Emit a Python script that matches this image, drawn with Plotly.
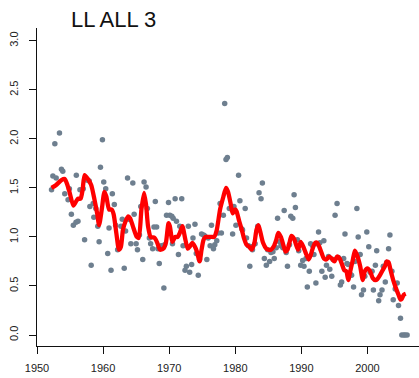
import plotly.graph_objects as go

# Observed points (year, value)
pt_year = [1952.2, 1952.4, 1952.7, 1952.9, 1953.4, 1953.7, 1953.9, 1954.2, 1954.7, 1954.9,
           1955.2, 1955.5, 1955.9, 1955.95, 1956.2, 1956.5, 1957.0, 1957.2, 1957.5, 1957.9,
           1958.0, 1958.2, 1958.5, 1958.6, 1958.9, 1959.2, 1959.4, 1959.6, 1959.9, 1960.1,
           1960.4, 1960.7, 1960.9, 1961.2, 1961.4, 1961.7, 1961.9, 1962.2, 1962.4, 1962.7,
           1962.9, 1963.2, 1963.4, 1963.7, 1963.9, 1964.2, 1964.5, 1964.7, 1965.0, 1965.2,
           1965.5, 1965.7, 1966.0, 1966.2, 1966.5, 1966.7, 1967.0, 1967.2, 1967.5, 1967.7,
           1967.9, 1968.1, 1968.3, 1968.5, 1968.8, 1969.2, 1969.3, 1969.6, 1969.9, 1970.1,
           1970.4, 1970.5, 1970.6, 1970.9, 1971.1, 1971.4, 1971.6, 1971.9, 1972.1, 1972.4,
           1972.6, 1972.9, 1973.1, 1973.4, 1973.6, 1973.9, 1974.1, 1974.4, 1974.6, 1974.9,
           1975.2, 1975.4, 1975.7, 1975.9, 1976.2, 1976.4, 1976.7, 1976.9, 1977.2, 1977.4,
           1977.7, 1977.9, 1978.2, 1978.4, 1978.6, 1978.8, 1979.1, 1979.6, 1979.8, 1980.1,
           1980.5, 1980.7, 1981.0, 1981.1, 1981.5, 1981.7, 1982.0, 1982.2, 1982.5, 1982.6,
           1983.0, 1983.4, 1983.6, 1983.9, 1984.1, 1984.4, 1984.7, 1984.9, 1985.2, 1985.4,
           1985.7, 1985.9, 1986.2, 1986.4, 1986.7, 1986.9, 1987.2, 1987.4, 1987.7, 1987.9,
           1988.2, 1988.4, 1988.7, 1988.9, 1989.1, 1989.4, 1989.6, 1989.9, 1990.2, 1990.4,
           1990.7, 1990.9, 1991.2, 1991.4, 1991.7, 1991.9, 1992.2, 1992.4, 1992.6, 1992.8,
           1993.1, 1993.4, 1993.6, 1993.8, 1994.1, 1994.3, 1994.6, 1994.8, 1995.1, 1995.4,
           1995.6, 1995.9, 1996.1, 1996.4, 1996.6, 1996.9, 1997.1, 1997.4, 1997.6, 1997.9,
           1998.1, 1998.4, 1998.6, 1998.9, 1999.1, 1999.4, 1999.6, 1999.9, 2000.2, 2000.4,
           2000.7, 2000.9, 2001.2, 2001.4, 2001.7, 2001.9, 2002.2, 2002.4, 2002.7, 2002.9,
           2003.2, 2003.4, 2003.7, 2003.9, 2004.2, 2004.5, 2004.7, 2005.0, 2005.2, 2005.5,
           2005.7, 2006.0]
pt_value = [1.48, 1.62, 1.95, 1.60, 2.06, 1.69, 1.67, 1.44, 1.38, 1.49,
            1.23, 1.12, 1.15, 1.63, 1.16, 1.48, 1.49, 0.97, 1.58, 1.57,
            1.31, 0.71, 1.34, 1.20, 1.29, 1.11, 0.95, 1.71, 1.99, 1.56,
            1.49, 0.83, 1.09, 0.66, 1.44, 1.33, 1.12, 0.87, 0.94, 1.11,
            1.18, 0.68, 1.06, 1.60, 1.18, 0.93, 1.55, 1.23, 0.93, 0.87,
            1.02, 1.31, 0.77, 1.56, 1.51, 1.29, 0.99, 0.93, 0.88, 1.10,
            1.36, 1.10, 0.88, 0.73, 0.91, 0.48, 0.92, 1.22, 1.35, 1.22,
            1.21, 0.93, 1.19, 1.39, 1.16, 0.82, 1.11, 1.39, 0.91, 0.66,
            0.70, 1.11, 0.64, 0.72, 0.99, 1.13, 0.83, 0.61, 0.77, 1.03,
            1.02, 1.01, 0.77, 0.99, 0.91, 1.12, 0.88, 0.92, 0.96, 1.04,
            1.34, 1.04, 1.22, 2.36, 1.79, 1.81, 1.29, 1.03, 1.31, 1.12,
            1.63, 1.37, 1.08, 1.07, 1.29, 0.99, 0.91, 0.70, 0.90, 0.87,
            0.93, 1.11, 1.45, 1.39, 1.55, 0.78, 0.71, 0.87, 0.75, 0.84,
            0.85, 0.78, 0.89, 1.19, 0.95, 0.91, 0.89, 1.27, 0.84, 0.70,
            0.92, 1.21, 1.19, 1.43, 1.30, 0.97, 0.86, 0.71, 0.76, 0.70,
            0.78, 0.49, 0.65, 0.93, 0.91, 0.82, 0.53, 0.93, 1.05, 0.94,
            0.65, 0.96, 0.59, 0.71, 0.80, 0.67, 0.60, 0.77, 1.22, 1.34,
            0.79, 0.51, 0.54, 0.78, 1.03, 0.73, 0.72, 0.62, 0.61, 0.49,
            0.75, 1.29, 1.00, 0.82, 0.41, 0.46, 0.60, 1.05, 0.90, 0.64,
            0.65, 0.46, 0.71, 0.86, 0.35, 0.41, 0.46, 0.70, 0.54, 0.74,
            0.88, 1.02, 0.65, 0.36, 0.47, 0.53, 0.30, 0.17, 0.00, 0.00,
            0.00, 0.00]

# Smoothed trend (red line)
sm_year = [1952.2, 1952.9, 1953.7, 1954.2, 1954.6, 1954.95, 1955.5, 1955.9, 1956.2, 1956.6,
           1956.9, 1957.2, 1957.7, 1958.2, 1958.7, 1959.1, 1959.4, 1959.8, 1960.2, 1960.5,
           1960.9, 1961.3, 1961.6, 1962.0, 1962.4, 1962.7, 1963.0, 1963.4, 1963.8, 1964.1,
           1964.5, 1965.1, 1965.4, 1965.8, 1966.2, 1966.5, 1966.8, 1967.2, 1967.8, 1968.2,
           1968.6, 1969.1, 1969.5, 1969.9, 1970.1, 1970.5, 1970.9, 1971.3, 1971.6, 1972.0,
           1972.4, 1972.8, 1973.1, 1973.5, 1973.9, 1974.2, 1974.6, 1974.9, 1975.2, 1975.5,
           1975.9, 1976.4, 1976.8, 1977.2, 1977.7, 1978.2, 1978.6, 1978.9, 1979.3, 1979.6,
           1980.0, 1980.2, 1980.6, 1981.0, 1981.3, 1981.7, 1982.1, 1982.5, 1982.9, 1983.2,
           1983.5, 1983.8, 1984.2, 1984.7, 1985.0, 1985.4, 1985.8, 1986.2, 1986.5, 1986.9,
           1987.3, 1987.6, 1987.9, 1988.2, 1988.5, 1988.9, 1989.2, 1989.5, 1989.9, 1990.3,
           1990.7, 1991.1, 1991.4, 1991.7, 1992.1, 1992.4, 1992.7, 1993.1, 1993.4, 1993.8,
           1994.2, 1994.6, 1995.0, 1995.4, 1995.8, 1996.1, 1996.5, 1996.8, 1997.1, 1997.4,
           1997.8, 1998.1, 1998.5, 1998.9, 1999.3, 1999.6, 2000.0, 2000.4, 2000.8, 2001.2,
           2001.5, 2001.9, 2002.3, 2002.7, 2002.9, 2003.2, 2003.5, 2003.9, 2004.3, 2004.7,
           2005.0, 2005.2, 2005.5, 2005.8]
sm_value = [1.50, 1.53, 1.58, 1.59, 1.53, 1.45, 1.32, 1.36, 1.39, 1.39,
            1.48, 1.63, 1.59, 1.53, 1.38, 1.24, 1.12, 1.28, 1.46, 1.41,
            1.28, 1.28, 1.23, 1.04, 0.87, 0.90, 1.07, 1.16, 1.21, 1.19,
            1.11, 1.00, 0.99, 1.28, 1.45, 1.33, 1.11, 1.00, 0.99, 0.94,
            0.87, 0.88, 0.94, 1.14, 1.11, 0.95, 1.00, 1.00, 1.04, 1.11,
            0.99, 0.88, 0.90, 0.94, 0.90, 0.85, 0.75, 0.87, 0.97, 1.00,
            1.00, 1.00, 1.00, 1.07, 1.28, 1.41, 1.50, 1.46, 1.34, 1.24,
            1.28, 1.26, 1.16, 1.07, 0.99, 0.92, 0.90, 0.87, 0.94, 1.07,
            1.12, 1.05, 0.94, 0.88, 0.87, 0.87, 0.90, 0.97, 1.04, 1.00,
            0.91, 0.85, 0.87, 0.94, 1.01, 0.98, 0.92, 0.87, 0.95, 0.90,
            0.83, 0.77, 0.81, 0.88, 0.94, 0.94, 0.90, 0.83, 0.78, 0.77,
            0.80, 0.78, 0.75, 0.80, 0.78, 0.73, 0.66, 0.65, 0.56, 0.65,
            0.77, 0.86, 0.80, 0.70, 0.56, 0.65, 0.68, 0.65, 0.58, 0.56,
            0.57, 0.61, 0.66, 0.71, 0.75, 0.74, 0.66, 0.56, 0.48, 0.41,
            0.36, 0.37, 0.41, 0.42]

x_ticks = [1950, 1960, 1970, 1980, 1990, 2000]
y_ticks = [0.0, 0.5, 1.0, 1.5, 2.0, 2.5, 3.0]
y_tick_text = ["0.0", "0.5", "1.0", "1.5", "2.0", "2.5", "3.0"]

fig = go.Figure()
fig.add_trace(go.Scatter(x=pt_year, y=pt_value, mode="markers",
                         marker=dict(size=5.5, color="#6E7F8F"), hoverinfo="skip"))
fig.add_trace(go.Scatter(x=sm_year, y=sm_value, mode="lines",
                         line=dict(color="#FF0000", width=4.3, shape="spline", smoothing=0.6),
                         hoverinfo="skip"))

font_fam = "Liberation Sans, Arial, sans-serif"
fig.update_layout(
    width=419, height=378,
    margin=dict(l=37, r=0, t=28, b=32),
    paper_bgcolor="white", plot_bgcolor="white",
    showlegend=False,
    title=dict(text="LL ALL 3", x=71/419, xanchor="left", xref="container",
               y=1 - 19/378, yanchor="middle", yref="container",
               font=dict(family=font_fam, size=22, color="#111")),
    font=dict(family=font_fam, size=11, color="#222"),
)
fig.update_xaxes(range=[1950, 2007.8], tickvals=x_ticks, ticks="outside", ticklen=7,
                 tickcolor="#111", tickwidth=1.2, showline=True, linecolor="#111",
                 linewidth=1.4, showgrid=False, zeroline=False, ticklabelstandoff=5,
                 tickfont=dict(family=font_fam, size=11, color="#222"))
fig.update_yaxes(range=[-0.112, 3.13], tickvals=y_ticks, ticktext=y_tick_text,
                 ticks="outside", ticklen=7, tickcolor="#111", tickwidth=1.2,
                 showline=True, linecolor="#111", linewidth=1.4, showgrid=False,
                 zeroline=False, tickangle=-90, ticklabelstandoff=6,
                 tickfont=dict(family=font_fam, size=11, color="#222"))

fig.write_html("out.html")
